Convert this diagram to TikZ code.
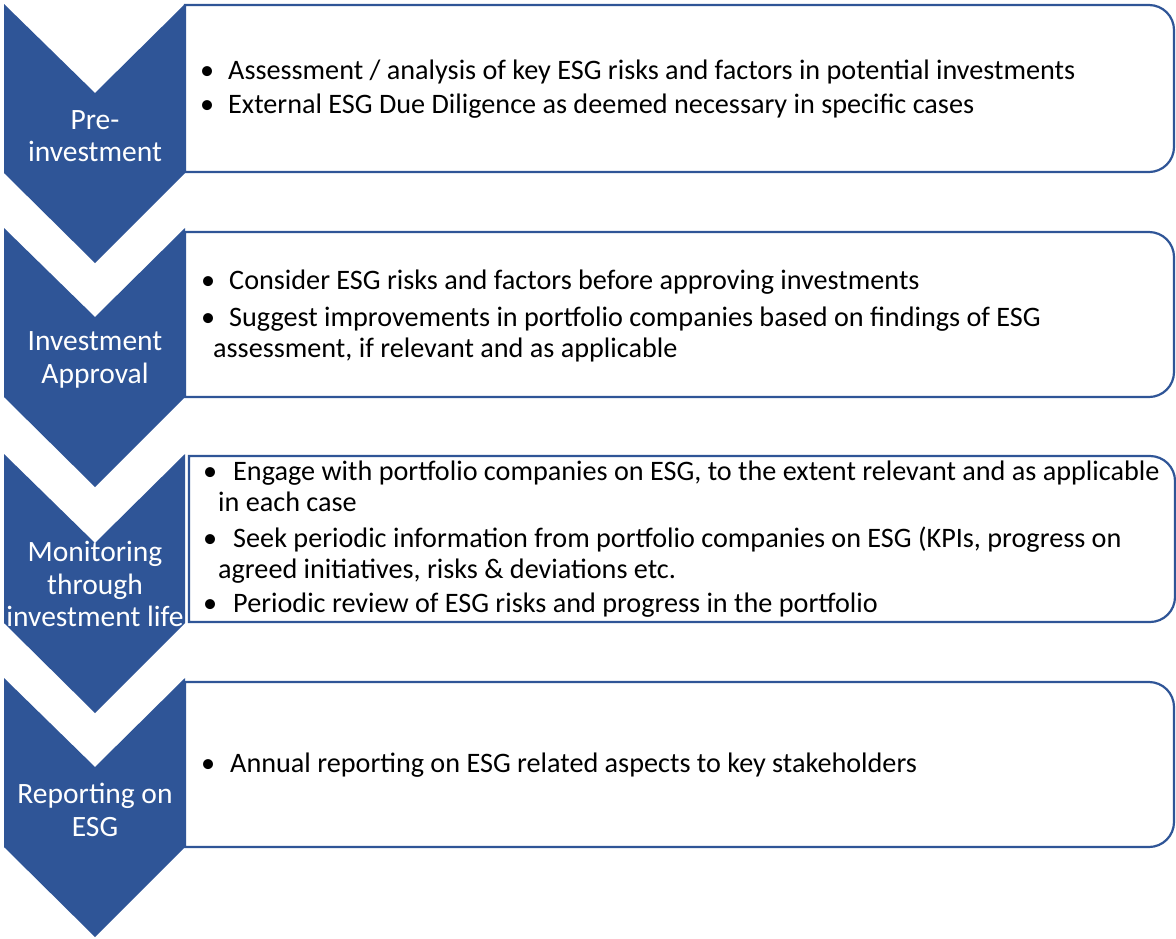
\documentclass[tikz,border=0pt]{standalone}
\usepackage{fontspec}
\setmainfont{Carlito}
\definecolor{esgblue}{RGB}{47,85,151}
\newcommand{\bul}[1][14pt]{\textbullet\hspace{#1}}

\begin{document}
\begin{tikzpicture}[
    x=1pt, y=1pt,
    chevron/.style={
        fill=esgblue,
        draw=none
    },
    panel/.style={
        draw=esgblue,
        line width=2.2pt,
        fill=white
    },
    stage/.style={
        text=white,
        align=center,
        inner sep=0pt,
        font=\fontsize{29.5}{32.5}\selectfont
    },
    point/.style={
        anchor=base west,
        align=left,
        inner sep=0pt,
        font=\fontsize{28.2}{31}\selectfont
    }
]
\useasboundingbox (0,0) rectangle (1176,-938);

% ===== panels =====
\foreach \t/\b/\l/\r in {5/172/185/1174, 232/397/185/1174, 456/622/189/1175, 682/847/185/1174} {
    \draw[panel] (\l,-\t) -- (\r-25,-\t) arc[start angle=90, end angle=0, radius=25]
        -- (\r,-\b+25) arc[start angle=0, end angle=-90, radius=25] -- (\l,-\b) -- cycle;
}

% ===== chevrons =====
\foreach \t in {4,228,454,678} {
    \fill[chevron] (4,-\t) -- (95,-\t-89) -- (185,-\t) -- (185,-\t-169)
        -- (95,-\t-259) -- (4,-\t-169) -- cycle;
}

% ===== stage labels =====
\node[stage] (pre) at (95,-136) {Pre-\\investment};
\node[stage] (approval) at (95,-360) {Investment\\Approval};
\node[stage] (monitor) at (95,-584) {Monitoring\\through\\investment life};
\node[stage] (report) at (95,-810) {Reporting on\\ESG};

% ===== bullet points (base = last line) =====
\node[point] (pre-a) at (200,-79) {\bul Assessment / analysis of key ESG risks and factors in potential investments};
\node[point] (pre-b) at (200,-113) {\bul External ESG Due Diligence as deemed necessary in specific cases};

\node[point] (approval-a) at (201,-289) {\bul Consider ESG risks and factors before approving investments};
\node[point] (approval-b) at (201,-357) {\bul Suggest improvements in portfolio companies based on findings of ESG\\\hspace*{12pt}assessment, if relevant and as applicable};

\node[point] (monitor-a) at (203,-511) {\bul[16pt]Engage with portfolio companies on ESG, to the extent relevant and as applicable\\\hspace*{15pt}in each case};
\node[point] (monitor-b) at (203,-578) {\bul[16pt]Seek periodic information from portfolio companies on ESG (KPIs, progress on\\\hspace*{15pt}agreed initiatives, risks \& deviations etc.};
\node[point] (monitor-c) at (203,-612) {\bul[16pt]Periodic review of ESG risks and progress in the portfolio};

\node[point] (report-a) at (201,-772) {\bul[15pt]Annual reporting on ESG related aspects to key stakeholders};

\end{tikzpicture}
\end{document}
